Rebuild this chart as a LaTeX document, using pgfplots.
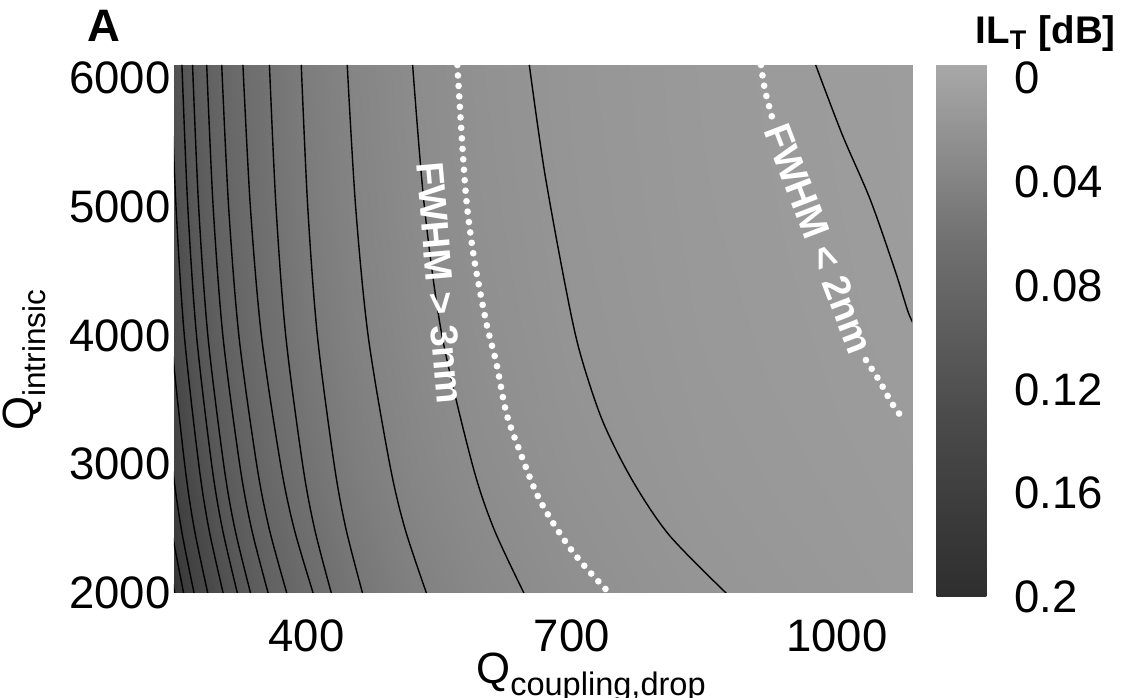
\documentclass[border=0pt]{standalone}
\usepackage{pgfplots}
\usepackage{pgfplotstable}
\pgfplotsset{compat=1.18}
\usepackage{fontspec}
\setmainfont{Liberation Sans}

% IL_T [dB] (Qc, Qi, IL)
\pgfplotstableread{
x y z
250 2000 0.1813
275 2000 0.1502
300 2000 0.1266
330 2000 0.1051
360 2000 0.0887
400 2000 0.0723
450 2000 0.0576
520 2000 0.0437
600 2000 0.0335
700 2000 0.0252
850 2000 0.0179
1085 2000 0.0119
250 3000 0.1504
275 3000 0.1247
300 3000 0.1052
330 3000 0.0874
360 3000 0.0738
400 3000 0.0602
450 3000 0.0481
520 3000 0.0366
600 3000 0.0281
700 3000 0.0213
850 3000 0.0152
1085 3000 0.0103
250 4000 0.1336
275 4000 0.1108
300 4000 0.0935
330 4000 0.0777
360 4000 0.0657
400 4000 0.0536
450 4000 0.0429
520 4000 0.0327
600 4000 0.0252
700 4000 0.0191
850 4000 0.0137
1085 4000 0.00936
250 5000 0.1243
275 5000 0.1032
300 5000 0.0871
330 5000 0.0724
360 5000 0.0612
400 5000 0.0500
450 5000 0.0400
520 5000 0.0306
600 5000 0.0236
700 5000 0.0179
850 5000 0.0129
1085 5000 0.00887
250 6100 0.1183
275 6100 0.0982
300 6100 0.0829
330 6100 0.0689
360 6100 0.0583
400 6100 0.0477
450 6100 0.0382
520 6100 0.0292
600 6100 0.0225
700 6100 0.0172
850 6100 0.0124
1085 6100 0.00855
}\ildata

\begin{document}
\begin{tikzpicture}
\begin{axis}[
  name=main,
  scale only axis,
  width=210.86pt, height=150.86pt,
  xmin=250, xmax=1085, ymin=2000, ymax=6100,
  xtick={400,700,1000}, ytick={2000,3000,4000,5000,6000},
  major tick length=0pt,
  axis line style={draw=none},
  /pgf/number format/assume math mode=true,
  /pgf/number format/1000 sep={},
  tick label style={font=\fontsize{13}{15}\selectfont},
  yticklabel style={xshift=2.5pt},
  xticklabel style={yshift=-4.1pt},
  label style={font=\fontsize{12.5}{14}\selectfont},
  xlabel={Q\raisebox{-0.55ex}{\fontsize{9.3}{10}\selectfont coupling,drop}},
  ylabel={Q\raisebox{-0.55ex}{\fontsize{9}{10}\selectfont intrinsic}},
  xlabel style={at={(axis description cs:0.565,-0.0895)}, anchor=north},
  ylabel style={at={(axis description cs:-0.249,0.441)}, anchor=north},
  colormap={ilgray}{rgb255=(168,168,168) rgb255=(112,112,112) rgb255=(74,74,74) rgb255=(46,46,46)},
  point meta min=-0.005, point meta max=0.2,
  colorbar,
  colorbar style={
    at={(parent axis.north east)}, anchor=north west, xshift=-1.5pt,
    scale only axis, width=15.1pt, height=152pt,
    y dir=reverse,
    ytick={0,0.04,0.08,0.12,0.16,0.2},
    yticklabels={0,0.04,0.08,0.12,0.16,0.2},
    major tick length=0pt,
    axis line style={draw=none},
    yticklabel style={font=\fontsize{13}{15}\selectfont, xshift=3.5pt},
  },
  cl/.style={black, line width=0.4pt, smooth, forget plot},
  fw/.style={white, line width=1.9pt, line cap=round, dash pattern=on 0pt off 3pt, smooth, forget plot},
]
\addplot[surf, shader=interp, mesh/rows=5, mesh/cols=12, point meta=\thisrow{z}] table[x=x, y=y] {\ildata};

\addplot[cl] coordinates {(202,6100)(207.2,5000)(214.9,4000)(228.2,3000)(237.6,2500)(250.9,2000)};
\addplot[cl] coordinates {(210,6100)(215.4,5000)(223.4,4000)(237.3,3000)(247.1,2500)(260.9,2000)};
\addplot[cl] coordinates {(219.5,6100)(225.1,5000)(233.5,4000)(248.0,3000)(258.2,2500)(272.7,2000)};
\addplot[cl] coordinates {(232,6100)(237.9,5000)(246.8,4000)(262.1,3000)(272.9,2500)(288.2,2000)};
\addplot[cl] coordinates {(246,6100)(252.3,5000)(261.7,4000)(278.0,3000)(289.4,2500)(305.6,2000)};
\addplot[cl] coordinates {(259,6100)(265.6,5000)(275.5,4000)(292.6,3000)(304.7,2500)(321.7,2000)};
\addplot[cl] coordinates {(271,6100)(277.9,5000)(288.3,4000)(306.2,3000)(318.8,2500)(336.6,2000)};
\addplot[cl] coordinates {(287,6100)(294.3,5000)(305.3,4000)(324.3,3000)(337.7,2500)(356.5,2000)};
\addplot[cl] coordinates {(304,6100)(311.8,5000)(323.4,4000)(343.5,3000)(357.7,2500)(377.6,2000)};
\addplot[cl] coordinates {(328,6100)(336.4,5000)(348.9,4000)(370.6,3000)(385.9,2500)(407.4,2000)};
\addplot[cl] coordinates {(358,6100)(365.4,5000)(376.4,4000)(395.5,3000)(409.0,2500)(428.0,2000)};
\addplot[cl] coordinates {(394,6100)(401.3,5000)(412.2,4000)(431.2,3000)(444.5,2500)(463.3,2000)};
\addplot[cl] coordinates {(446,6100)(455.5,5000)(469.6,4000)(494.1,3000)(511.3,2500)(535.6,2000)};
\addplot[cl] coordinates {(520,6100)(533.3,5000)(553.2,4000)(587.5,3000)(611.8,2500)(645.9,2000)};
\addplot[cl] coordinates {(652.0,6100)(668.9,5285)(691.5,4430)(708.5,3887)(734.5,3343)(768.4,2877)(810.2,2450)(874.6,2000)};
\addplot[cl] coordinates {(976,6100)(1006,5560)(1038,5050)(1066,4500)(1081,4174)(1090,4050)};

\addplot[fw] coordinates {(570.6,6100)(575.1,5595)(580.8,5052)(589.8,4586)(603.4,4097)(614.7,3786)(626.0,3398)(640.7,3110)(659.9,2777)(676.8,2567)(697.2,2357)(716.4,2194)(742.4,2000)};
\addplot[fw] coordinates {(914.1,6100)(918.6,5906)(926.6,5696)};
\addplot[fw] coordinates {(1032.8,3809)(1047.5,3654)(1062.1,3475)(1075.7,3343)};

\node[white, font=\bfseries\fontsize{11}{12}\selectfont, rotate=-85] at (axis cs:551,4407) {FWHM > 3nm};
\node[white, font=\bfseries\fontsize{11}{12}\selectfont, rotate=-69] at (axis cs:980,4752) {FWHM < 2nm};
\end{axis}

\node[anchor=base west, font=\bfseries\fontsize{13}{14}\selectfont] at ([xshift=-28.3pt,yshift=6.6pt]main.north west) {A};
\node[anchor=base west, inner sep=0pt, font=\bfseries\fontsize{11}{13}\selectfont] at ([xshift=18pt,yshift=6pt]main.north east) {IL\textsubscript{T} [dB]};

\pgfresetboundingbox
\path ([xshift=-49.71pt,yshift=-30pt]main.south west) rectangle ([xshift=61.14pt,yshift=18.57pt]main.north east);
\end{tikzpicture}
\end{document}
